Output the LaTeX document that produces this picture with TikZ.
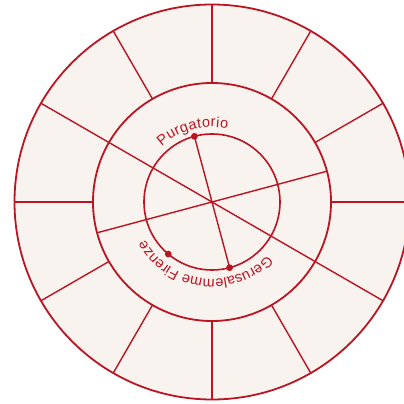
\documentclass[tikz,border=0pt]{standalone}
\usepackage{fontspec}
\setmainfont{Liberation Sans}
\usetikzlibrary{decorations.text}
\definecolor{ringRed}{HTML}{BA1522}
\definecolor{parchment}{HTML}{F8F3EE}

\begin{document}
\begin{tikzpicture}[x=1pt, y=1pt]
    \useasboundingbox (-212,-202) rectangle (192,202);
    \clip (-212,-202) rectangle (192,202);
    \fill[white] (-212,-202) rectangle (192,202);
    \filldraw[fill=parchment, draw=ringRed, line width=1.8pt] (0,0) circle (197.5);
    \draw[ringRed, line width=1.8pt] (0,0) circle (119);
    \draw[ringRed, line width=1.6pt] (0,0) circle (68);
    \foreach \a in {0,30,60,90,120,180,210,240,270,300}
        \draw[ringRed, line width=1.4pt] (\a:119) -- (\a:197.5);
    \draw[ringRed, line width=1.4pt] (150:197.5) -- (-30:197.5);
    \draw[ringRed, line width=1.4pt] (15:119) -- (195:119);
    \coordinate (purg) at (105:68);
    \coordinate (geru) at (-75:68);
    \coordinate (fire) at (230:68);
    \draw[ringRed, line width=1.4pt] (purg) -- (geru);
    \foreach \p in {purg,geru,fire}
        \fill[ringRed] (\p) circle (3.4);
    \path[decorate, decoration={text along path, text align=fit to path,
        text={|\fontsize{14.5}{16}\selectfont\color{ringRed}|Purgatorio}}]
        (132:75) arc[start angle=132, end angle=78, radius=75];
    \path[decorate, decoration={text along path, text align=fit to path,
        text={|\fontsize{14.5}{16}\selectfont\color{ringRed}|Gerusalemme Firenze}}]
        (-44:77) arc[start angle=-44, end angle=-150, radius=77];
\end{tikzpicture}
\end{document}
